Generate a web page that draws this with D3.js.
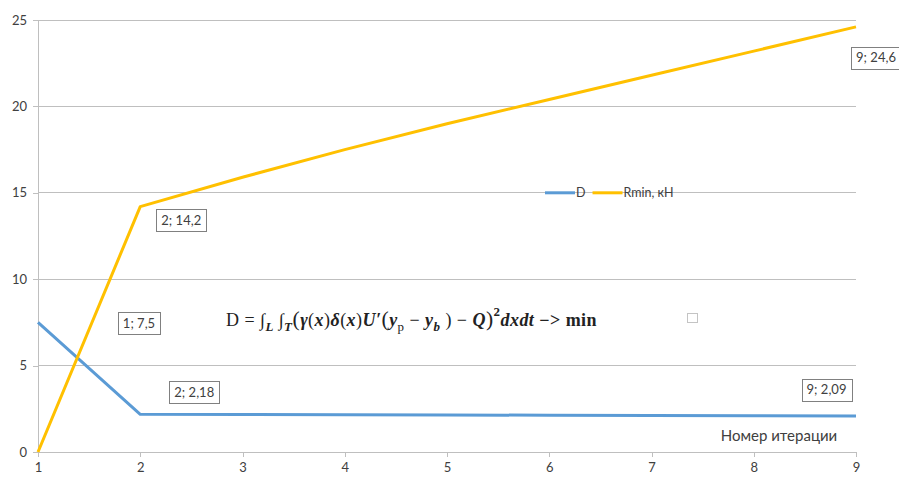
<!DOCTYPE html>
<html>
<head>
<meta charset="utf-8">
<script src="https://cdn.jsdelivr.net/npm/d3@7"></script>
<style>
  html, body { margin: 0; padding: 0; background: #fff; }
  svg { display: block; font-family: Lato, "Open Sans", sans-serif; }
</style>
</head>
<body>
<svg id="chart" width="899" height="477"></svg>
<script>
// Iteration numbers on the horizontal axis
const iterations = [1, 2, 3, 4, 5, 6, 7, 8, 9];
// Objective D per iteration
const dValues = [7.5, 2.18, 2.17, 2.16, 2.14, 2.13, 2.11, 2.10, 2.09];
// Minimal reaction Rmin, kN per iteration
const rminValues = [0, 14.2, 15.9, 17.5, 19.0, 20.4, 21.8, 23.2, 24.6];
const yTicks = [0, 5, 10, 15, 20, 25];
const seriesNames = ["D", "Rmin, кН"];
const seriesColors = ["#5B9BD5", "#FFC000"];
const axisTitle = "Номер итерации";

// Labelled points: [series index, point index, label text, dx, dy]
const pointLabels = [
  [0, 0, "1; 7,5", 101, 1],
  [1, 1, "2; 14,2", 41, 13.5],
  [0, 1, "2; 2,18", 54, -22],
  [0, 8, "9; 2,09", -29.5, -26],
  [1, 8, "9; 24,6", 20, 31]
];

const svg = d3.select("#chart");
const margin = { left: 38, right: 43, top: 20, bottom: 25 };
const W = 899, H = 477;

const x = d3.scaleLinear().domain([1, 9]).range([margin.left, W - margin.right]);
const y = d3.scaleLinear().domain([0, 25]).range([H - margin.bottom, margin.top]);

const gridColor = "#bfbfbf";
const textColor = "#404040";

// horizontal gridlines
svg.append("g").selectAll("line").data(yTicks.filter(t => t > 0)).join("line")
  .attr("x1", x(1)).attr("x2", x(9))
  .attr("y1", d => y(d)).attr("y2", d => y(d))
  .attr("stroke", gridColor).attr("stroke-width", 1)
  .attr("shape-rendering", "crispEdges");

// y axis
const yAxis = svg.append("g")
  .attr("transform", `translate(${x(1)},0)`)
  .call(d3.axisLeft(y).tickValues(yTicks).tickSize(5).tickPadding(6).tickFormat(d3.format("d")));
yAxis.select(".domain").attr("stroke", gridColor).attr("shape-rendering", "crispEdges");
yAxis.selectAll(".tick line").attr("stroke", gridColor).attr("shape-rendering", "crispEdges");
yAxis.selectAll("text").attr("fill", textColor).attr("font-size", 13).attr("font-family", "Lato, sans-serif");

// x axis
const xAxis = svg.append("g")
  .attr("transform", `translate(0,${y(0)})`)
  .call(d3.axisBottom(x).tickValues(iterations).tickSize(5).tickPadding(6).tickFormat(d3.format("d")));
xAxis.select(".domain").attr("stroke", gridColor).attr("shape-rendering", "crispEdges");
xAxis.selectAll(".tick line").attr("stroke", gridColor).attr("shape-rendering", "crispEdges");
xAxis.selectAll("text").attr("fill", textColor).attr("font-size", 13).attr("font-family", "Lato, sans-serif");

// axis title
svg.append("text")
  .attr("x", 779).attr("y", 441)
  .attr("text-anchor", "middle")
  .attr("font-size", 15).attr("fill", textColor)
  .text(axisTitle);

// series lines
const series = [dValues, rminValues];
const line = d3.line().x((d, i) => x(iterations[i])).y(d => y(d));
series.forEach((vals, k) => {
  svg.append("path")
    .datum(vals)
    .attr("d", line)
    .attr("fill", "none")
    .attr("stroke", seriesColors[k])
    .attr("stroke-width", 3)
    .attr("stroke-linejoin", "round");
});

// legend
const legend = svg.append("g").attr("transform", `translate(545,${y(15)})`);
let lx = 0;
seriesNames.forEach((name, k) => {
  legend.append("line")
    .attr("x1", lx).attr("x2", lx + 30).attr("y1", 0).attr("y2", 0)
    .attr("stroke", seriesColors[k]).attr("stroke-width", 3);
  const t = legend.append("text")
    .attr("x", lx + 31).attr("y", 4.5)
    .attr("font-size", 12.5).attr("fill", textColor)
    .text(name);
  lx += 31 + t.node().getComputedTextLength() + 7;
});

// data labels in boxes
pointLabels.forEach(([s, i, txt, dx, dy]) => {
  const cx = x(iterations[i]) + dx;
  const cy = y(series[s][i]) + dy;
  const g = svg.append("g");
  const rect = g.append("rect");
  const t = g.append("text")
    .attr("x", cx).attr("y", cy + 4.5)
    .attr("text-anchor", "middle")
    .attr("font-size", 13).attr("fill", textColor)
    .text(txt);
  const w = t.node().getComputedTextLength() + 10;
  const h = 22;
  rect.attr("x", Math.round(cx - w / 2) + 0.5).attr("y", Math.round(cy - h / 2) + 0.5)
    .attr("width", Math.round(w)).attr("height", h)
    .attr("fill", "#fff").attr("stroke", "#808080").attr("stroke-width", 1);
});

// objective formula
const fx = 226, fWidth = 371, fSize = 18;
const f = svg.append("text")
  .attr("x", fx).attr("y", 326)
  .attr("font-family", "'Liberation Serif', 'DejaVu Serif', serif")
  .attr("fill", "#222");
// [text, weight, style, baseline shift, relative size]
const parts = [
  ["D = ", "normal", "normal", 0, 1],
  ["∫", "normal", "normal", 0, 1],
  ["L", "bold", "italic", 0.25, 0.72],
  [" ∫", "normal", "normal", -0.25, 1],
  ["T", "bold", "italic", 0.25, 0.72],
  ["(", "normal", "normal", -0.25, 1.2],
  ["γ", "bold", "italic", 0, 1],
  ["(", "normal", "normal", 0, 1],
  ["x", "bold", "italic", 0, 1],
  [")", "normal", "normal", 0, 1],
  ["δ", "bold", "italic", 0, 1],
  ["(", "normal", "normal", 0, 1],
  ["x", "bold", "italic", 0, 1],
  [")", "normal", "normal", 0, 1],
  ["U′", "bold", "italic", 0, 1],
  ["(", "normal", "normal", 0, 1.2],
  ["y", "bold", "italic", 0, 1],
  ["р", "normal", "normal", 0.25, 0.72],
  [" − ", "normal", "normal", -0.25, 1],
  ["y", "bold", "italic", 0, 1],
  ["b", "bold", "italic", 0.25, 0.72],
  [" ) − ", "normal", "normal", -0.25, 1],
  ["Q", "bold", "italic", 0, 1],
  [")", "normal", "normal", 0, 1.2],
  ["2", "bold", "normal", -0.55, 0.72],
  ["dxdt", "bold", "italic", 0.55, 1],
  [" −> ", "bold", "normal", 0, 1],
  ["min", "bold", "normal", 0, 1]
];
parts.forEach(([txt, weight, style, shift, rel]) => {
  f.append("tspan")
    .attr("dy", shift * fSize)
    .attr("font-weight", weight)
    .attr("font-style", style)
    .attr("font-size", fSize * rel)
    .text(txt);
});
// spread the glyphs so the formula spans its intended width
const nChars = parts.reduce((n, p) => n + p[0].length, 0);
const spacing = (fWidth - f.node().getComputedTextLength()) / nChars;
f.attr("letter-spacing", Math.max(0, spacing));

// small placeholder box next to the formula
svg.append("rect")
  .attr("x", 687.5).attr("y", 313.5).attr("width", 10).attr("height", 9)
  .attr("fill", "none").attr("stroke", "#888").attr("stroke-width", 1)
  .attr("stroke-dasharray", "1,1");
</script>
</body>
</html>
